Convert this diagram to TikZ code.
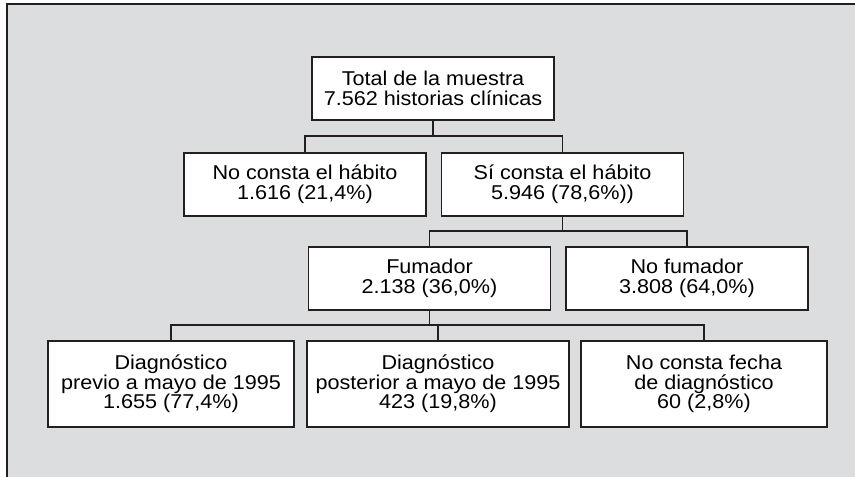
\documentclass[tikz,border=0pt]{standalone}
\usepackage{fontspec}
\setmainfont{Liberation Sans}[FakeStretch=1.08]
\usetikzlibrary{positioning}
\definecolor{fondo}{RGB}{220,221,223}
\definecolor{linea}{RGB}{35,31,32}

\begin{document}
\begin{tikzpicture}
[every node/.style={rectangle,draw=linea,fill=white,line width=0.75pt,align=center,inner sep=0pt,
 font=\fontsize{10}{9.85}\selectfont,minimum height=31.5pt,minimum width=121pt},x=0.5pt,y=-0.5pt]

\useasboundingbox (0,0) rectangle (855,476);
\fill[fondo] (7,4) rectangle (870,490);
\draw[linea,line width=0.75pt] (7,490) -- (7,4) -- (870,4);

%nivel 1 y 2
\node (Total) at (433,88.5) {Total de la muestra\\7.562 historias clínicas};
\node (NoConsta) at (305,184.5) {No consta el hábito\\1.616 (21,4\%)};
\node (SiConsta) at (562.5,184.5) {Sí consta el hábito\\5.946 (78,6\%))};
%nivel 3
\node (Fumador) at (429.5,278.5) {Fumador\\2.138 (36,0\%)};
\node (NoFumador) at (687,278.5) {No fumador\\3.808 (64,0\%)};
%nivel 4
\node[minimum height=43pt,minimum width=123pt] (DiagPrevio) at (171,384)
  {Diagnóstico\\previo a mayo de 1995\\1.655 (77,4\%)};
\node[minimum height=43pt,minimum width=131pt] (DiagPosterior) at (438,384)
  {Diagnóstico\\posterior a mayo de 1995\\423 (19,8\%)};
\node[minimum height=43pt,minimum width=123pt] (SinFecha) at (704,384)
  {No consta fecha\\de diagnóstico\\60 (2,8\%)};

\draw[linea,line width=0.75pt] (Total.south) -- ++(0,15) -| (NoConsta.north)
	(Total.south) -- ++(0,15) -| (SiConsta.north)
	(SiConsta.south) -- ++(0,14) -| (Fumador.north)
	(SiConsta.south) -- ++(0,14) -| (NoFumador.north)
	(Fumador.south) -- ++(0,14) -| (DiagPrevio.north)
	(Fumador.south) -- ++(0,14) -| (DiagPosterior.north)
	(Fumador.south) -- ++(0,14) -| (SinFecha.north);

%			(SiConsta) edge (Fumador);
\end{tikzpicture}
\end{document}
